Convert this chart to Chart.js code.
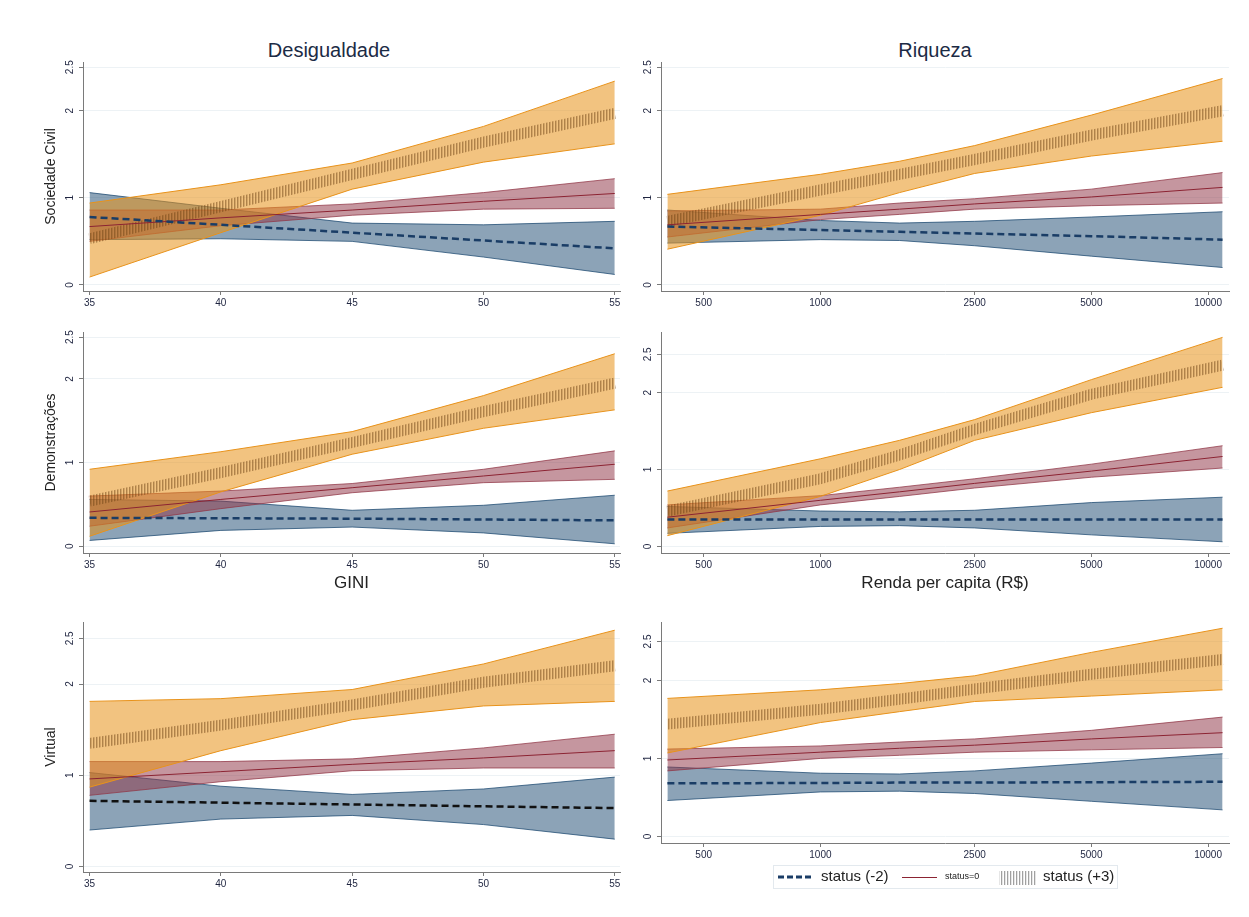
<!DOCTYPE html>
<html>
<head>
<meta charset="utf-8">
<script src="https://cdn.jsdelivr.net/npm/chart.js@4"></script>
<style>
  body { margin: 0; background: #fff; }
  #page { position: relative; width: 1249px; height: 917px; background: #fff; overflow: hidden;
          font-family: 'Liberation Sans', Arial, sans-serif; }
  #page canvas { position: absolute; }
  .title { position: absolute; font-size: 20px; line-height: 24px; color: #1c2b45;
           transform: translateX(-50%); white-space: nowrap; }
</style>
</head>
<body>
<div id="page">
  <div class="title" style="left:329px; top:38px">Desigualdade</div>
  <div class="title" style="left:935px; top:38px">Riqueza</div>
  <canvas id="civGini"   width="600" height="273" style="left:30px;  top:40px"></canvas>
  <canvas id="civRenda"  width="620" height="273" style="left:620px; top:40px"></canvas>
  <canvas id="demoGini"  width="600" height="281" style="left:30px;  top:320px"></canvas>
  <canvas id="demoRenda" width="620" height="281" style="left:620px; top:320px"></canvas>
  <canvas id="virtGini"  width="600" height="284" style="left:30px;  top:610px"></canvas>
  <canvas id="virtRenda" width="620" height="295" style="left:620px; top:610px"></canvas>
</div>
<script>
// x values and ticks
const GINI_X = [35, 40, 45, 50, 55];
const RENDA_X = [403, 1000, 1600, 2500, 5000, 10900];
const GINI_TICKS = [35, 40, 45, 50, 55];
const RENDA_TICKS = [500, 1000, 2500, 5000, 10000];
const Y_TICKS = [0, 1, 2, 2.5];

// Sociedade Civil x GINI
const civGiniNegLo  = [0.52, 0.53, 0.50, 0.32, 0.12];
const civGiniNeg    = [0.78, 0.69, 0.60, 0.51, 0.42];
const civGiniNegHi  = [1.06, 0.88, 0.71, 0.69, 0.73];
const civGiniZeroLo = [0.50, 0.68, 0.80, 0.87, 0.88];
const civGiniZero   = [0.67, 0.77, 0.86, 0.96, 1.05];
const civGiniZeroHi = [0.86, 0.86, 0.93, 1.06, 1.22];
const civGiniPosLo  = [0.09, 0.60, 1.10, 1.41, 1.62];
const civGiniPos    = [0.53, 0.90, 1.27, 1.64, 1.97];
const civGiniPosHi  = [0.94, 1.15, 1.40, 1.82, 2.34];

// Sociedade Civil x Renda
const civRendaNegLo  = [0.48, 0.52, 0.51, 0.45, 0.33, 0.20];
const civRendaNeg    = [0.67, 0.63, 0.61, 0.59, 0.56, 0.52];
const civRendaNegHi  = [0.86, 0.74, 0.71, 0.73, 0.78, 0.84];
const civRendaZeroLo = [0.55, 0.75, 0.81, 0.87, 0.91, 0.94];
const civRendaZero   = [0.69, 0.81, 0.87, 0.93, 1.01, 1.12];
const civRendaZeroHi = [0.85, 0.87, 0.94, 0.99, 1.10, 1.29];
const civRendaPosLo  = [0.41, 0.80, 1.06, 1.28, 1.48, 1.65];
const civRendaPos    = [0.73, 1.09, 1.27, 1.44, 1.72, 2.00];
const civRendaPosHi  = [1.04, 1.27, 1.42, 1.60, 1.95, 2.37];

// Demonstrações x GINI
const demoGiniNegLo  = [0.07, 0.19, 0.23, 0.16, 0.03];
const demoGiniNeg    = [0.34, 0.335, 0.33, 0.32, 0.31];
const demoGiniNegHi  = [0.56, 0.54, 0.43, 0.49, 0.61];
const demoGiniZeroLo = [0.24, 0.45, 0.64, 0.76, 0.80];
const demoGiniZero   = [0.41, 0.56, 0.70, 0.84, 0.98];
const demoGiniZeroHi = [0.60, 0.66, 0.75, 0.92, 1.14];
const demoGiniPosLo  = [0.12, 0.65, 1.10, 1.41, 1.63];
const demoGiniPos    = [0.54, 0.88, 1.24, 1.61, 1.95];
const demoGiniPosHi  = [0.92, 1.13, 1.37, 1.80, 2.30];

// Demonstrações x Renda
const demoRendaNegLo  = [0.17, 0.26, 0.27, 0.24, 0.15, 0.06];
const demoRendaNeg    = [0.35, 0.35, 0.35, 0.35, 0.35, 0.35];
const demoRendaNegHi  = [0.52, 0.46, 0.45, 0.47, 0.57, 0.64];
const demoRendaZeroLo = [0.24, 0.54, 0.65, 0.76, 0.90, 1.02];
const demoRendaZero   = [0.38, 0.60, 0.71, 0.82, 0.98, 1.17];
const demoRendaZeroHi = [0.54, 0.66, 0.77, 0.88, 1.07, 1.31];
const demoRendaPosLo  = [0.14, 0.65, 1.00, 1.38, 1.74, 2.07];
const demoRendaPos    = [0.46, 0.88, 1.19, 1.52, 1.98, 2.36];
const demoRendaPosHi  = [0.72, 1.14, 1.38, 1.65, 2.17, 2.72];

// Virtual x GINI
const virtGiniNegLo  = [0.40, 0.52, 0.56, 0.46, 0.30];
const virtGiniNeg    = [0.72, 0.70, 0.68, 0.66, 0.64];
const virtGiniNegHi  = [1.03, 0.88, 0.79, 0.85, 0.98];
const virtGiniZeroLo = [0.78, 0.93, 1.05, 1.08, 1.08];
const virtGiniZero   = [0.96, 1.04, 1.12, 1.19, 1.27];
const virtGiniZeroHi = [1.15, 1.15, 1.18, 1.30, 1.45];
const virtGiniPosLo  = [0.87, 1.27, 1.61, 1.76, 1.81];
const virtGiniPos    = [1.35, 1.55, 1.77, 2.02, 2.20];
const virtGiniPosHi  = [1.81, 1.84, 1.94, 2.22, 2.59];

// Virtual x Renda
const virtRendaNegLo  = [0.46, 0.57, 0.58, 0.55, 0.45, 0.34];
const virtRendaNeg    = [0.68, 0.685, 0.69, 0.69, 0.695, 0.70];
const virtRendaNegHi  = [0.89, 0.81, 0.80, 0.84, 0.94, 1.06];
const virtRendaZeroLo = [0.84, 1.00, 1.04, 1.08, 1.11, 1.14];
const virtRendaZero   = [0.98, 1.08, 1.13, 1.17, 1.25, 1.33];
const virtRendaZeroHi = [1.12, 1.16, 1.21, 1.25, 1.36, 1.53];
const virtRendaPosLo  = [1.07, 1.46, 1.60, 1.73, 1.80, 1.88];
const virtRendaPos    = [1.44, 1.63, 1.76, 1.89, 2.08, 2.27];
const virtRendaPosHi  = [1.77, 1.88, 1.96, 2.06, 2.36, 2.67];

const FONT = "'Liberation Sans', Arial, sans-serif";
const BLUE_FILL = 'rgba(26,71,111,0.5)', BLUE_EDGE = 'rgba(26,71,111,0.75)', BLUE_LINE = '#1a3d66';
const RED_FILL = 'rgba(144,53,70,0.52)', RED_EDGE = 'rgba(144,53,70,0.75)', RED_LINE = '#8b2332';
const ORANGE_FILL = 'rgba(232,146,24,0.55)', ORANGE_EDGE = '#e8921a';
const AXIS = '#7a7a7a';
const TICK_TXT = '#1f2540';

function stripes(dark, light, w) {
  const c = document.createElement('canvas');
  c.width = w; c.height = 4;
  const g = c.getContext('2d');
  g.fillStyle = dark; g.fillRect(0, 0, 1, 4);
  if (light) { g.fillStyle = light; g.fillRect(1, 0, 1, 4); }
  return g.createPattern(c, 'repeat');
}
const HATCH = stripes('rgba(110,65,20,0.5)', 'rgba(110,65,20,0.22)', 3);

const pts = (xs, ys) => xs.map((x, i) => ({ x, y: ys[i] }));

function band(xs, lo, hi, fill, edge, order) {
  return [
    { data: pts(xs, lo), borderColor: edge, borderWidth: 1, fill: false, order },
    { data: pts(xs, hi), borderColor: edge, borderWidth: 1, fill: '-1', backgroundColor: fill, order }
  ];
}

function buildSets(p) {
  const xs = p.xs;
  return [
    ...band(xs, p.negLo, p.negHi, BLUE_FILL, BLUE_EDGE, 6),
    ...band(xs, p.zeroLo, p.zeroHi, RED_FILL, RED_EDGE, 5),
    ...band(xs, p.posLo, p.posHi, ORANGE_FILL, ORANGE_EDGE, 4),
    { data: pts(xs, p.pos), borderColor: HATCH, borderWidth: 11, fill: false, order: 3 },
    { data: pts(xs, p.zero), borderColor: RED_LINE, borderWidth: 1, fill: false, order: 2 },
    { data: pts(xs, p.neg), borderColor: p.negColor || BLUE_LINE, borderWidth: 2.5,
      borderDash: [7, 4], fill: false, order: 1 }
  ];
}

const legendPlugin = {
  id: 'statusLegend',
  afterDraw(chart) {
    const g = chart.ctx;
    g.save();
    g.strokeStyle = '#e3e9ee'; g.lineWidth = 1;
    g.strokeRect(153.5, 255.5, 344, 23);
    g.strokeStyle = BLUE_LINE; g.lineWidth = 3; g.setLineDash([6, 3]);
    g.beginPath(); g.moveTo(158, 267); g.lineTo(194, 267); g.stroke();
    g.setLineDash([]);
    g.strokeStyle = RED_LINE; g.lineWidth = 1;
    g.beginPath(); g.moveTo(282, 267.5); g.lineTo(317, 267.5); g.stroke();
    g.fillStyle = stripes('rgba(130,130,130,0.75)', 'rgba(130,130,130,0.2)', 3);
    g.fillRect(379, 261, 38, 14);
    g.fillStyle = '#222'; g.textBaseline = 'middle';
    g.font = '15px ' + FONT;
    g.fillText('status (-2)', 201, 267);
    g.fillText('status (+3)', 423, 267);
    g.font = '9px ' + FONT;
    g.fillText('status=0', 325, 267);
    g.restore();
  }
};

function makeChart(id, p) {
  const isGini = p.xs === GINI_X;
  const xTicks = isGini ? GINI_TICKS : RENDA_TICKS;
  return new Chart(document.getElementById(id), {
    type: 'line',
    data: { datasets: buildSets(p) },
    options: {
      responsive: false, animation: false, events: [], devicePixelRatio: 1,
      layout: { autoPadding: false,
                padding: { top: p.padTop, right: isGini ? 10 : 11, bottom: p.padBottom || 0, left: 0 } },
      elements: { point: { radius: 0 }, line: { tension: 0 } },
      plugins: { legend: { display: false }, tooltip: { enabled: false } },
      scales: {
        x: {
          type: isGini ? 'linear' : 'logarithmic',
          min: isGini ? 34.75 : 388, max: isGini ? 55.2 : 11325,
          afterBuildTicks: s => { s.ticks = xTicks.map(v => ({ value: v })); },
          afterFit: s => { s.height = p.xTitle ? 48 : 22; },
          ticks: { autoSkip: false, maxRotation: 0, minRotation: 0, padding: 2,
                   font: { family: FONT, size: 10 }, color: TICK_TXT, callback: v => String(v) },
          grid: { drawOnChartArea: false, drawTicks: true, tickLength: 4, tickColor: AXIS },
          border: { color: AXIS, width: 1 },
          title: { display: !!p.xTitle, text: p.xTitle || '', color: '#222',
                   font: { family: FONT, size: 17 }, padding: { top: 0, bottom: 7 } }
        },
        y: {
          type: 'linear', min: p.yMin, max: p.yMax,
          afterBuildTicks: s => { s.ticks = Y_TICKS.map(v => ({ value: v })); },
          afterFit: s => { s.width = isGini ? 53 : 41; },
          ticks: { minRotation: 90, maxRotation: 90, crossAlign: 'center', padding: 2,
                   font: { family: FONT, size: 10 }, color: TICK_TXT, callback: v => String(v) },
          grid: { color: '#edf2f5', tickColor: AXIS, tickLength: 4 },
          border: { color: AXIS, width: 1 },
          title: { display: !!p.yTitle, text: p.yTitle || '', color: '#222',
                   font: { family: FONT, size: 14 }, padding: { top: 13, bottom: 0 } }
        }
      }
    },
    plugins: p.legend ? [legendPlugin] : []
  });
}

makeChart('civGini', { xs: GINI_X, yTitle: 'Sociedade Civil', yMin: -0.07, yMax: 2.56, padTop: 22,
  negLo: civGiniNegLo, neg: civGiniNeg, negHi: civGiniNegHi,
  zeroLo: civGiniZeroLo, zero: civGiniZero, zeroHi: civGiniZeroHi,
  posLo: civGiniPosLo, pos: civGiniPos, posHi: civGiniPosHi });

makeChart('civRenda', { xs: RENDA_X, yMin: -0.07, yMax: 2.56, padTop: 22,
  negLo: civRendaNegLo, neg: civRendaNeg, negHi: civRendaNegHi,
  zeroLo: civRendaZeroLo, zero: civRendaZero, zeroHi: civRendaZeroHi,
  posLo: civRendaPosLo, pos: civRendaPos, posHi: civRendaPosHi });

makeChart('demoGini', { xs: GINI_X, yTitle: 'Demonstrações', xTitle: 'GINI', yMin: -0.08, yMax: 2.56, padTop: 12,
  negLo: demoGiniNegLo, neg: demoGiniNeg, negHi: demoGiniNegHi,
  zeroLo: demoGiniZeroLo, zero: demoGiniZero, zeroHi: demoGiniZeroHi,
  posLo: demoGiniPosLo, pos: demoGiniPos, posHi: demoGiniPosHi });

makeChart('demoRenda', { xs: RENDA_X, xTitle: 'Renda per capita (R$)', yMin: -0.086, yMax: 2.79, padTop: 12,
  negLo: demoRendaNegLo, neg: demoRendaNeg, negHi: demoRendaNegHi,
  zeroLo: demoRendaZeroLo, zero: demoRendaZero, zeroHi: demoRendaZeroHi,
  posLo: demoRendaPosLo, pos: demoRendaPos, posHi: demoRendaPosHi });

makeChart('virtGini', { xs: GINI_X, yTitle: 'Virtual', yMin: -0.06, yMax: 2.68, padTop: 12, negColor: '#111',
  negLo: virtGiniNegLo, neg: virtGiniNeg, negHi: virtGiniNegHi,
  zeroLo: virtGiniZeroLo, zero: virtGiniZero, zeroHi: virtGiniZeroHi,
  posLo: virtGiniPosLo, pos: virtGiniPos, posHi: virtGiniPosHi });

makeChart('virtRenda', { xs: RENDA_X, yMin: -0.085, yMax: 2.75, padTop: 12, padBottom: 40, legend: true,
  negLo: virtRendaNegLo, neg: virtRendaNeg, negHi: virtRendaNegHi,
  zeroLo: virtRendaZeroLo, zero: virtRendaZero, zeroHi: virtRendaZeroHi,
  posLo: virtRendaPosLo, pos: virtRendaPos, posHi: virtRendaPosHi });
</script>
</body>
</html>
